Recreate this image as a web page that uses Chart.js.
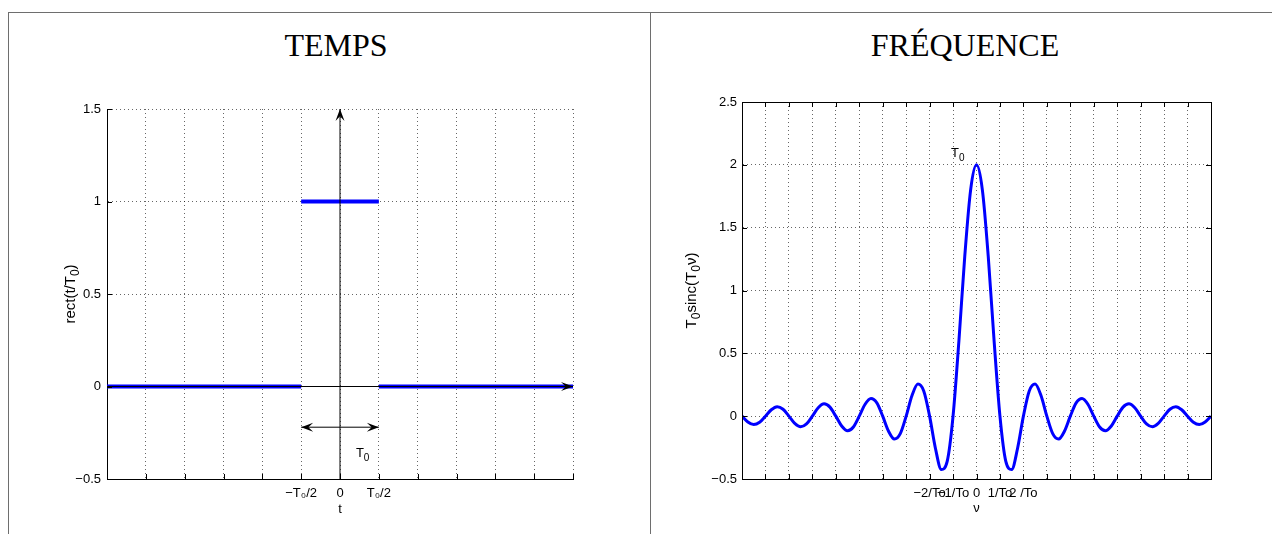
<!DOCTYPE html>
<html>
<head>
<meta charset="utf-8">
<script src="https://cdn.jsdelivr.net/npm/chart.js@4.4.1/dist/chart.umd.min.js"></script>
<style>
  html, body { margin: 0; padding: 0; background: #fff; }
  #page { position: relative; width: 1272px; height: 534px; overflow: hidden; }
  .frame { position: absolute; background: #6e6e6e; }
  .title { position: absolute; width: 240px; text-align: center; color: #000;
           font: 32px "Liberation Serif", "Times New Roman", serif; line-height: 32px; }
  canvas { position: absolute; top: 0; }
</style>
</head>
<body>
<div id="page">
  <div class="frame" style="left:8px;top:12px;width:1264px;height:1px"></div>
  <div class="frame" style="left:8px;top:12px;width:1px;height:522px"></div>
  <div class="frame" style="left:650px;top:12px;width:1px;height:522px"></div>
  <div class="title" style="left:216px;top:29px">TEMPS</div>
  <div class="title" style="left:845px;top:29px">FRÉQUENCE</div>
  <canvas id="timeChart" width="650" height="534" style="left:0"></canvas>
  <canvas id="freqChart" width="622" height="534" style="left:650px"></canvas>
</div>
<script>
// ---- time panel data ----
const tTicks = [-6, -5, -4, -3, -2, -1, 0, 1, 2, 3, 4, 5, 6]
const tTickLabels = ['', '', '', '', '', '−T₀/2', '0', 'T₀/2', '', '', '', '', '']
const rectTicks = [-0.5, 0, 0.5, 1, 1.5]
// rect(t/T0), null breaks the line at the jumps
const rectT = [-6, -1, -1, -1, 1, 1, 1, 6]
const rectV = [0, 0, null, 1, 1, null, 0, 0]
// black axes / arrows
const axisT = [-6, 6]
const axisV = [0, 0]
const upT = [0, 0]
const upV = [-0.5, 1.5]
const widthT = [-1, 1]
const widthV = [-0.22, -0.22]

// ---- frequency panel data ----
const nuTicks = [-10, -9, -8, -7, -6, -5, -4, -3, -2, -1, 0, 1, 2, 3, 4, 5, 6, 7, 8, 9, 10]
const nuTickLabels = ['', '', '', '', '', '', '', '', '−2/To', '−1/To', '0', '1/To', '2 /To', '', '', '', '', '', '', '', '']
const specTicks = [-0.5, 0, 0.5, 1, 1.5, 2, 2.5]
const nu = [
  -10, -9.75, -9.5, -9.25, -9, -8.75, -8.5, -8.25, -8, -7.75, -7.5, -7.25, -7, -6.75, -6.5, -6.25,
  -6, -5.75, -5.5, -5.25, -5, -4.75, -4.5, -4.25, -4, -3.75, -3.5, -3.25, -3, -2.75, -2.5, -2.25,
  -2, -1.75, -1.5, -1.25, -1, -0.75, -0.5, -0.25, 0, 0.25, 0.5, 0.75, 1, 1.25, 1.5, 1.75,
  2, 2.25, 2.5, 2.75, 3, 3.25, 3.5, 3.75, 4, 4.25, 4.5, 4.75, 5, 5.25, 5.5, 5.75,
  6, 6.25, 6.5, 6.75, 7, 7.25, 7.5, 7.75, 8, 8.25, 8.5, 8.75, 9, 9.25, 9.5, 9.75, 10
]
const spectrum = [
  0, -0.046, -0.067, -0.049, 0, 0.051, 0.075, 0.055, 0, -0.058, -0.085, -0.062, 0, 0.067, 0.098, 0.072,
  0, -0.078, -0.116, -0.086, 0, 0.095, 0.141, 0.106, 0, -0.120, -0.182, -0.139, 0, 0.164, 0.255, 0.200,
  0, -0.257, -0.424, -0.360, 0, 0.600, 1.273, 1.801, 2.000, 1.801, 1.273, 0.600, 0, -0.360, -0.424, -0.257,
  0, 0.200, 0.255, 0.164, 0, -0.139, -0.182, -0.120, 0, 0.106, 0.141, 0.095, 0, -0.086, -0.116, -0.078,
  0, 0.072, 0.098, 0.067, 0, -0.062, -0.085, -0.058, 0, 0.055, 0.075, 0.051, 0, -0.049, -0.067, -0.046, 0
]

const FONT = '"Liberation Sans", Arial, sans-serif'
Chart.defaults.color = '#000'
Chart.defaults.font.family = FONT

const pts = (xs, ys) => xs.map((x, i) => ({ x: x, y: ys[i] }))
const num = v => (v < 0 ? '−' + Math.abs(v) : String(v))

// text with subscripts: parts = [[text, isSub], ...]
const drawRich = (ctx, parts, x, y, size, align) => {
  const sub = Math.round(size * 0.78)
  let total = 0
  parts.forEach(([t, s]) => {
    ctx.font = (s ? sub : size) + 'px ' + FONT
    total += ctx.measureText(t).width
  })
  let cx = align === 'center' ? x - total / 2 : x
  ctx.textBaseline = 'alphabetic'
  ctx.textAlign = 'left'
  ctx.fillStyle = '#000'
  parts.forEach(([t, s]) => {
    ctx.font = (s ? sub : size) + 'px ' + FONT
    ctx.fillText(t, cx, s ? y + 4 : y)
    cx += ctx.measureText(t).width
  })
}
const drawRichUp = (ctx, parts, x, yc, size) => {
  ctx.save()
  ctx.translate(x, yc)
  ctx.rotate(-Math.PI / 2)
  drawRich(ctx, parts, 0, 0, size, 'center')
  ctx.restore()
}
const arrowHead = (ctx, tx, ty, fx, fy) => {
  const a = Math.atan2(ty - fy, tx - fx)
  const c = Math.cos(a), s = Math.sin(a)
  const L = 12, W = 4.5
  ctx.beginPath()
  ctx.moveTo(tx, ty)
  ctx.lineTo(tx - L * c - W * s, ty - L * s + W * c)
  ctx.lineTo(tx - 0.6 * L * c, ty - 0.6 * L * s)
  ctx.lineTo(tx - L * c + W * s, ty - L * s - W * c)
  ctx.closePath()
  ctx.fill()
}
const innerTicks = (chart, sides) => {
  const { ctx, chartArea: a, scales: { x, y } } = chart
  ctx.save()
  ctx.strokeStyle = '#000'
  ctx.lineWidth = 1
  ctx.beginPath()
  x.ticks.forEach(t => {
    const px = Math.round(x.getPixelForValue(t.value)) + 0.5
    if (sides.includes('b')) { ctx.moveTo(px, a.bottom); ctx.lineTo(px, a.bottom - 5) }
    if (sides.includes('t')) { ctx.moveTo(px, a.top); ctx.lineTo(px, a.top + 5) }
  })
  y.ticks.forEach(t => {
    const py = Math.round(y.getPixelForValue(t.value)) + 0.5
    if (sides.includes('l')) { ctx.moveTo(a.left, py); ctx.lineTo(a.left + 5, py) }
    if (sides.includes('r')) { ctx.moveTo(a.right, py); ctx.lineTo(a.right - 5, py) }
  })
  ctx.stroke()
  ctx.restore()
}

const dotted = {
  grid: { color: 'rgba(0,0,0,0.6)', lineWidth: 1, drawTicks: false },
  border: { display: true, color: '#000', width: 1, dash: [1, 3] }
}

const timeDecor = {
  id: 'timeDecor',
  afterDraw(chart) {
    const { ctx, chartArea: a, scales: { x, y } } = chart
    innerTicks(chart, 'bl')
    ctx.save()
    ctx.fillStyle = '#000'
    arrowHead(ctx, x.getPixelForValue(axisT[1]), y.getPixelForValue(axisV[1]), x.getPixelForValue(axisT[0]), y.getPixelForValue(axisV[0]))
    arrowHead(ctx, x.getPixelForValue(upT[1]), y.getPixelForValue(upV[1]), x.getPixelForValue(upT[0]), y.getPixelForValue(upV[0]))
    arrowHead(ctx, x.getPixelForValue(widthT[1]), y.getPixelForValue(widthV[1]), x.getPixelForValue(widthT[0]), y.getPixelForValue(widthV[0]))
    arrowHead(ctx, x.getPixelForValue(widthT[0]), y.getPixelForValue(widthV[0]), x.getPixelForValue(widthT[1]), y.getPixelForValue(widthV[1]))
    drawRich(ctx, [['T', false], ['0', true]], x.getPixelForValue(0.41), y.getPixelForValue(-0.38), 13, 'left')
    drawRichUp(ctx, [['rect(t/T', false], ['0', true], [')', false]], 75, (a.top + a.bottom) / 2, 15)
    drawRich(ctx, [['t', false]], x.getPixelForValue(0), 513, 13, 'center')
    ctx.restore()
  }
}

const freqDecor = {
  id: 'freqDecor',
  afterDraw(chart) {
    const { ctx, chartArea: a, scales: { x } } = chart
    const y = chart.scales.y
    innerTicks(chart, 'bltr')
    ctx.save()
    ctx.strokeStyle = '#000'
    ctx.lineWidth = 1
    ctx.strokeRect(Math.round(a.left) + 0.5, Math.round(a.top) + 0.5, Math.round(a.right - a.left), Math.round(a.bottom - a.top))
    drawRich(ctx, [['T', false], ['0', true]], x.getPixelForValue(-1.09), y.getPixelForValue(2.06), 13, 'left')
    drawRichUp(ctx, [['T', false], ['0', true], ['sinc(T', false], ['0', true], ['ν)', false]], 46, (a.top + a.bottom) / 2, 15)
    drawRich(ctx, [['ν', false]], x.getPixelForValue(0), 512, 13, 'center')
    ctx.restore()
  }
}

new Chart('timeChart', {
  type: 'line',
  data: {
    datasets: [
      { data: pts(axisT, axisV), borderColor: '#000', borderWidth: 1 },
      { data: pts(upT, upV), borderColor: '#000', borderWidth: 1 },
      { data: pts(widthT, widthV), borderColor: '#000', borderWidth: 1 },
      { data: pts(rectT, rectV), borderColor: '#0000ff', borderWidth: 4, spanGaps: false, borderCapStyle: 'butt' }
    ]
  },
  options: {
    responsive: false,
    animation: false,
    events: [],
    elements: { point: { radius: 0 }, line: { tension: 0 } },
    layout: { padding: { left: 0, top: 109, right: 77, bottom: 0 } },
    plugins: { legend: { display: false }, tooltip: { enabled: false } },
    scales: {
      x: {
        type: 'linear', min: -6, max: 6,
        afterBuildTicks: s => { s.ticks = tTicks.map(v => ({ value: v })) },
        afterFit: s => { s.height = 55 },
        ticks: { callback: (v, i) => tTickLabels[i], autoSkip: false, maxRotation: 0, padding: 7, font: { size: 13 } },
        ...dotted
      },
      y: {
        min: -0.5, max: 1.5,
        afterBuildTicks: s => { s.ticks = rectTicks.map(v => ({ value: v })) },
        afterFit: s => { s.width = 107 },
        ticks: { callback: v => num(v), padding: 6, font: { size: 13 } },
        ...dotted
      }
    }
  },
  plugins: [timeDecor]
})

new Chart('freqChart', {
  type: 'line',
  data: {
    datasets: [
      { data: pts(nu, spectrum), borderColor: '#0000ff', borderWidth: 3, cubicInterpolationMode: 'monotone' }
    ]
  },
  options: {
    responsive: false,
    animation: false,
    events: [],
    elements: { point: { radius: 0 } },
    layout: { padding: { left: 0, top: 102, right: 61, bottom: 0 } },
    plugins: { legend: { display: false }, tooltip: { enabled: false } },
    scales: {
      x: {
        type: 'linear', min: -10, max: 10,
        afterBuildTicks: s => { s.ticks = nuTicks.map(v => ({ value: v })) },
        afterFit: s => { s.height = 55 },
        ticks: { callback: (v, i) => nuTickLabels[i], autoSkip: false, maxRotation: 0, padding: 7, font: { size: 13 } },
        ...dotted
      },
      y: {
        min: -0.5, max: 2.5,
        afterBuildTicks: s => { s.ticks = specTicks.map(v => ({ value: v })) },
        afterFit: s => { s.width = 92 },
        ticks: { callback: v => num(v), padding: 5, font: { size: 13 } },
        ...dotted
      }
    }
  },
  plugins: [freqDecor]
})
</script>
</body>
</html>
